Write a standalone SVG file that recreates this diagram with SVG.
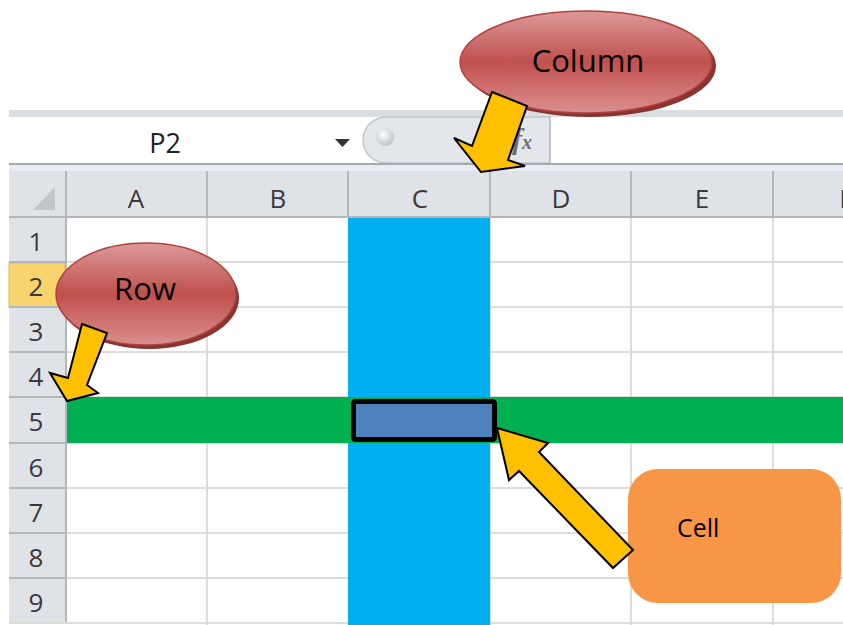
<svg xmlns="http://www.w3.org/2000/svg" width="843" height="625" viewBox="0 0 843 625">
<style>
.hdr{font-family:"Open Sans","Noto Sans",sans-serif;font-size:26px;fill:#3a3a3a;text-anchor:middle}
.grid{stroke:#dcdcdc;stroke-width:2}
.hline{stroke:#b3b7bc;stroke-width:2}
.arrow{fill:#ffc000;stroke:#000;stroke-width:2;stroke-linejoin:miter}
.lbl{font-family:"Open Sans","Noto Sans",sans-serif;font-size:31px;fill:#000;text-anchor:middle}
.bubble{fill:url(#red);stroke:#b0413e;stroke-width:1.5}
</style>
<defs>
<linearGradient id="red" x1="0" y1="0" x2="0" y2="1">
<stop offset="0" stop-color="#dc9a98"/>
<stop offset="0.5" stop-color="#c0504d"/>
<stop offset="1" stop-color="#d9908e"/>
</linearGradient>
<radialGradient id="knob" cx="0.4" cy="0.35" r="0.7">
<stop offset="0" stop-color="#ffffff"/>
<stop offset="1" stop-color="#b9bdc2"/>
</radialGradient>
</defs>
<rect width="843" height="625" fill="#fff"/>
<g id="sheet">
<rect x="9" y="110" width="834" height="7" fill="#dadde1"/>
<rect x="9" y="117" width="834" height="46" fill="#fff"/>
<path d="M550,117 L386,117 A23,23 0 0 0 386,163 L550,163 Z" fill="#e3e6ea" stroke="#c3c7cc" stroke-width="1.5"/>
<circle cx="385" cy="137" r="9" fill="url(#knob)"/>
<line x1="550" y1="117" x2="550" y2="163" stroke="#c0c4c8" stroke-width="2"/>
<text x="165" y="153" class="hdr" style="font-size:27px;fill:#222">P2</text>
<polygon points="335,139 350,139 342.5,147" fill="#333"/>
<text x="512" y="149" font-family="Liberation Serif,serif" font-style="italic" font-weight="bold" font-size="30" fill="#6e6e6e">f<tspan font-size="20">x</tspan></text>
<rect x="9" y="163" width="834" height="2" fill="#a6aab0"/>
<rect x="9" y="165" width="834" height="6" fill="#e8ecf3"/>
<rect x="9" y="171" width="834" height="46" fill="#dfe3e8"/>
<polygon points="33,210 55,210 55,187" fill="#c2c6ca"/>
<line x1="9" y1="217" x2="843" y2="217" class="hline"/>
<g class="hline">
<line x1="66" y1="171" x2="66" y2="623"/>
<line x1="207" y1="171" x2="207" y2="217"/>
<line x1="348" y1="171" x2="348" y2="217"/>
<line x1="490" y1="171" x2="490" y2="217"/>
<line x1="631" y1="171" x2="631" y2="217"/>
<line x1="773" y1="171" x2="773" y2="217"/>
</g>
<text x="136" y="208" class="hdr">A</text>
<text x="278" y="208" class="hdr">B</text>
<text x="420" y="208" class="hdr">C</text>
<text x="561" y="208" class="hdr">D</text>
<text x="702" y="208" class="hdr">E</text>
<text x="846" y="208" class="hdr">F</text>
<rect x="9" y="218" width="56" height="405" fill="#dfe3e8"/>
<rect x="9" y="263" width="56" height="44" fill="#f9d46e" stroke="#e6b550" stroke-width="1"/>
<g class="hline">
<line x1="9" y1="262" x2="65" y2="262"/>
<line x1="9" y1="307" x2="65" y2="307"/>
<line x1="9" y1="352" x2="65" y2="352"/>
<line x1="9" y1="397" x2="65" y2="397"/>
<line x1="9" y1="443" x2="65" y2="443"/>
<line x1="9" y1="488" x2="65" y2="488"/>
<line x1="9" y1="533" x2="65" y2="533"/>
<line x1="9" y1="578" x2="65" y2="578"/>
<line x1="9" y1="623" x2="65" y2="623"/>
</g>
<text x="36" y="251" class="hdr">1</text>
<text x="36" y="296" class="hdr">2</text>
<text x="36" y="341" class="hdr">3</text>
<text x="36" y="386" class="hdr">4</text>
<text x="36" y="431" class="hdr">5</text>
<text x="36" y="477" class="hdr">6</text>
<text x="36" y="522" class="hdr">7</text>
<text x="36" y="567" class="hdr">8</text>
<text x="36" y="612" class="hdr">9</text>
<g class="grid">
<line x1="67" y1="262" x2="843" y2="262"/>
<line x1="67" y1="307" x2="843" y2="307"/>
<line x1="67" y1="352" x2="843" y2="352"/>
<line x1="67" y1="397" x2="843" y2="397"/>
<line x1="67" y1="443" x2="843" y2="443"/>
<line x1="67" y1="488" x2="843" y2="488"/>
<line x1="67" y1="533" x2="843" y2="533"/>
<line x1="67" y1="578" x2="843" y2="578"/>
<line x1="9" y1="623" x2="843" y2="623"/>
<line x1="207" y1="218" x2="207" y2="625"/>
<line x1="490" y1="218" x2="490" y2="625"/>
<line x1="631" y1="218" x2="631" y2="625"/>
<line x1="773" y1="218" x2="773" y2="625"/>
</g>
<rect x="348" y="218" width="142" height="407" fill="#00b0f0"/>
<rect x="67" y="397" width="776" height="46" fill="#00b050"/>
</g>
<g id="cell-highlight">
<rect x="353.5" y="401.5" width="141" height="38" rx="2" fill="#4f81bd" stroke="#000" stroke-width="5"/>
</g>
<g id="column-label">
<ellipse cx="590" cy="66" rx="126" ry="51" fill="#8a3431"/>
<ellipse cx="586" cy="62" rx="126" ry="51" class="bubble"/>
<text x="588" y="72" class="lbl">Column</text>
</g>
<g id="row-label">
<ellipse cx="149" cy="298" rx="90" ry="51" fill="#8a3431"/>
<ellipse cx="146" cy="294" rx="90" ry="51" class="bubble"/>
<text x="145" y="300" class="lbl">Row</text>
</g>
<g id="cell-label">
<rect x="628" y="469" width="213" height="134" rx="30" fill="#f79646"/>
<text x="677" y="537" font-family="Open Sans,Noto Sans,sans-serif" font-size="25" fill="#000">Cell</text>
</g>
<g id="connectors">
<polygon class="arrow" points="492,92 527,106 508,160 525,166 481,172 454,138 472,146"/>
<polygon class="arrow" points="82,324 107,333 87,385 98,393 67,401 50,373 68,378"/>
<polygon class="arrow" points="633,550 613,568 519,471 509,480 497,428 548,443 539,452"/>
</g>
</svg>
